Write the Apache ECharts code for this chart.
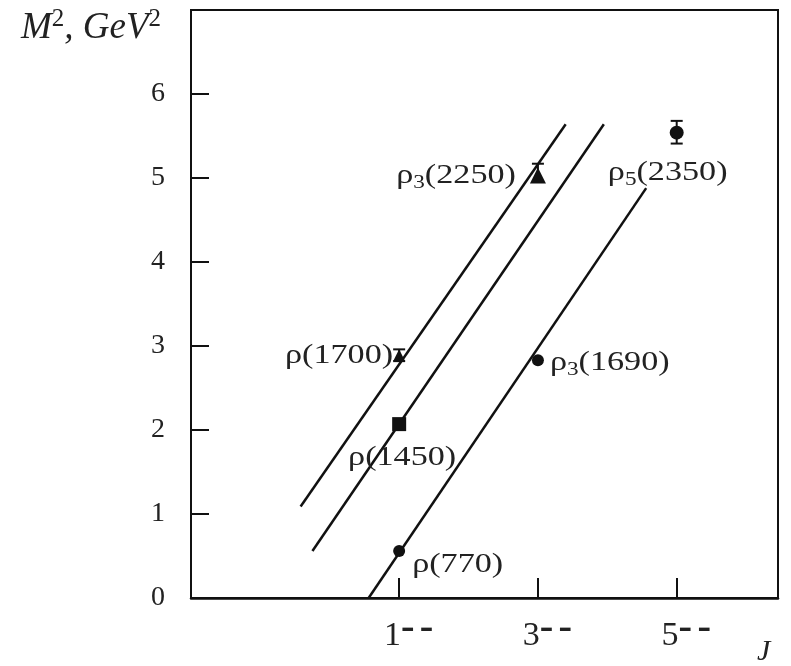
<!DOCTYPE html>
<html><head><meta charset="utf-8">
<script src="https://cdn.jsdelivr.net/npm/echarts@6/dist/echarts.min.js"></script>
<style>html,body{margin:0;padding:0;background:#fff}#c{width:791px;height:666px}</style>
</head><body><div id="c"></div>
<script>
// ---- data ----
const stateNames = ['ρ(770)', 'ρ(1450)', 'ρ(1700)', 'ρ3(1690)', 'ρ3(2250)', 'ρ5(2350)'];
const spinJ      = [1, 1, 1, 3, 3, 5];
const massSq     = [0.56, 2.07, 2.89, 2.83, 5.03, 5.54];
const errLow     = [null, null, 2.82, null, 4.96, 5.41];
const errHigh    = [null, null, 2.96, null, 5.17, 5.68];
const trajectoryA = [[-0.42, 1.09], [3.40, 5.64]];
const trajectoryB = [[-0.25, 0.56], [3.95, 5.64]];
const trajectoryC = [[0.56, 0.0], [4.56, 4.88]];
const xTickValues = [1, 3, 5];
const xTickLabels = ['1', '3', '5'];
const yTickValues = [0, 1, 2, 3, 4, 5, 6];

// ---- styling (not data) ----
const FONT = 'Liberation Serif';
const symbolOf = ['circle', 'rect', 'triangle', 'circle', 'triangle', 'circle'];
const sizeOf = [12, 14, 12, 12, 16, 14];
const labelPos = [
  {align: 'left', d: [13, 14]},
  {align: 'center', d: [3, 34]},
  {align: 'right', d: [-6, 0]},
  {align: 'left', d: [12, 2]},
  {align: 'right', d: [-22, 0]},
  {align: 'center', d: [-9, 40]}
];
function richName(n) {
  const m = n.match(/^ρ(\d)?(\(.*\))$/);
  return '{r|ρ}' + (m[1] ? '{s|' + m[1] + '}' : '') + '{r|' + m[2] + '}';
}
const rich = {
  r: {fontFamily: FONT, fontSize: 28, fill: '#222', lineHeight: 34},
  s: {fontFamily: FONT, fontSize: 19, fill: '#222', lineHeight: 19, verticalAlign: 'bottom'}
};

const pointData = spinJ.map((j, i) => ({
  value: [j, massSq[i]],
  symbol: symbolOf[i],
  symbolSize: sizeOf[i]
}));
const labelData = spinJ.map((j, i) => [j, massSq[i]]);
const errData = [];
spinJ.forEach((j, i) => { if (errLow[i] !== null) errData.push([j, errLow[i], errHigh[i]]); });

const chart = echarts.init(document.getElementById('c'));
chart.setOption({
  animation: false,
  backgroundColor: '#fff',
  grid: {left: 191, right: 13, top: 10, bottom: 68, show: true, borderColor: '#111', borderWidth: 2, backgroundColor: 'transparent'},
  xAxis: {
    type: 'value', min: -2, max: 6.46,
    axisLine: {show: true, onZero: false, lineStyle: {color: '#111', width: 2.5}},
    splitLine: {show: false},
    axisTick: {show: true, inside: true, length: 20, customValues: xTickValues, lineStyle: {color: '#111', width: 2}},
    axisLabel: {
      customValues: xTickValues, margin: 18,
      formatter: v => '{sp| }{n|' + xTickLabels[xTickValues.indexOf(v)] + '}{d|\u2013\u2009\u2013}',
      rich: {
        sp: {width: 19, fontSize: 10},
        n: {fontFamily: FONT, fontSize: 34, color: '#222', lineHeight: 40},
        d: {fontFamily: 'DejaVu Sans', fontSize: 27, fontWeight: 'bold', color: '#222', lineHeight: 24, verticalAlign: 'top'}
      }
    }
  },
  yAxis: {
    type: 'value', min: 0, max: 7, interval: 1,
    axisLine: {show: true, onZero: false, lineStyle: {color: '#111', width: 2}},
    splitLine: {show: false},
    axisTick: {show: true, inside: true, length: 18, customValues: [1, 2, 3, 4, 5, 6], lineStyle: {color: '#111', width: 2}},
    axisLabel: {customValues: yTickValues, margin: 26, fontFamily: FONT, fontSize: 28, color: '#222'}
  },
  graphic: [
    {type: 'text', left: 21, top: 7, style: {
      text: '{i|M}{p|2}{i|, GeV}{p|2}',
      rich: {
        i: {fontFamily: FONT, fontStyle: 'italic', fontSize: 37, fill: '#222', lineHeight: 42},
        p: {fontFamily: FONT, fontSize: 25, fill: '#222', lineHeight: 28, verticalAlign: 'top'}
      }
    }},
    {type: 'text', left: 757, top: 637, style: {text: 'J', fontFamily: FONT, fontStyle: 'italic', fontSize: 30, fill: '#222'}}
  ],
  series: [
    {type: 'line', data: trajectoryA, symbol: 'none', lineStyle: {color: '#111', width: 2.5}, silent: true},
    {type: 'line', data: trajectoryB, symbol: 'none', lineStyle: {color: '#111', width: 2.5}, silent: true},
    {type: 'line', data: trajectoryC, symbol: 'none', lineStyle: {color: '#111', width: 2.5}, silent: true},
    {type: 'custom', data: errData, z: 4, renderItem: function (params, api) {
      const x = api.value(0);
      const lo = api.coord([x, api.value(1)]);
      const hi = api.coord([x, api.value(2)]);
      const w = 6;
      return {type: 'group', children: [
        {type: 'line', shape: {x1: lo[0], y1: lo[1], x2: hi[0], y2: hi[1]}, style: {stroke: '#111', lineWidth: 2}},
        {type: 'line', shape: {x1: hi[0] - w, y1: hi[1], x2: hi[0] + w, y2: hi[1]}, style: {stroke: '#111', lineWidth: 2}},
        {type: 'line', shape: {x1: lo[0] - w, y1: lo[1], x2: lo[0] + w, y2: lo[1]}, style: {stroke: '#111', lineWidth: 2}}
      ]};
    }},
    {type: 'scatter', data: pointData, z: 5, itemStyle: {color: '#111', opacity: 1}},
    {type: 'custom', data: labelData, z: 6, renderItem: function (params, api) {
      const i = params.dataIndex;
      const p = api.coord([api.value(0), api.value(1)]);
      return {type: 'text', x: p[0] + labelPos[i].d[0], y: p[1] + labelPos[i].d[1], scaleX: 1.22,
        style: {text: richName(stateNames[i]), rich: rich, align: labelPos[i].align, verticalAlign: 'middle'}};
    }}
  ]
});
</script></body></html>
